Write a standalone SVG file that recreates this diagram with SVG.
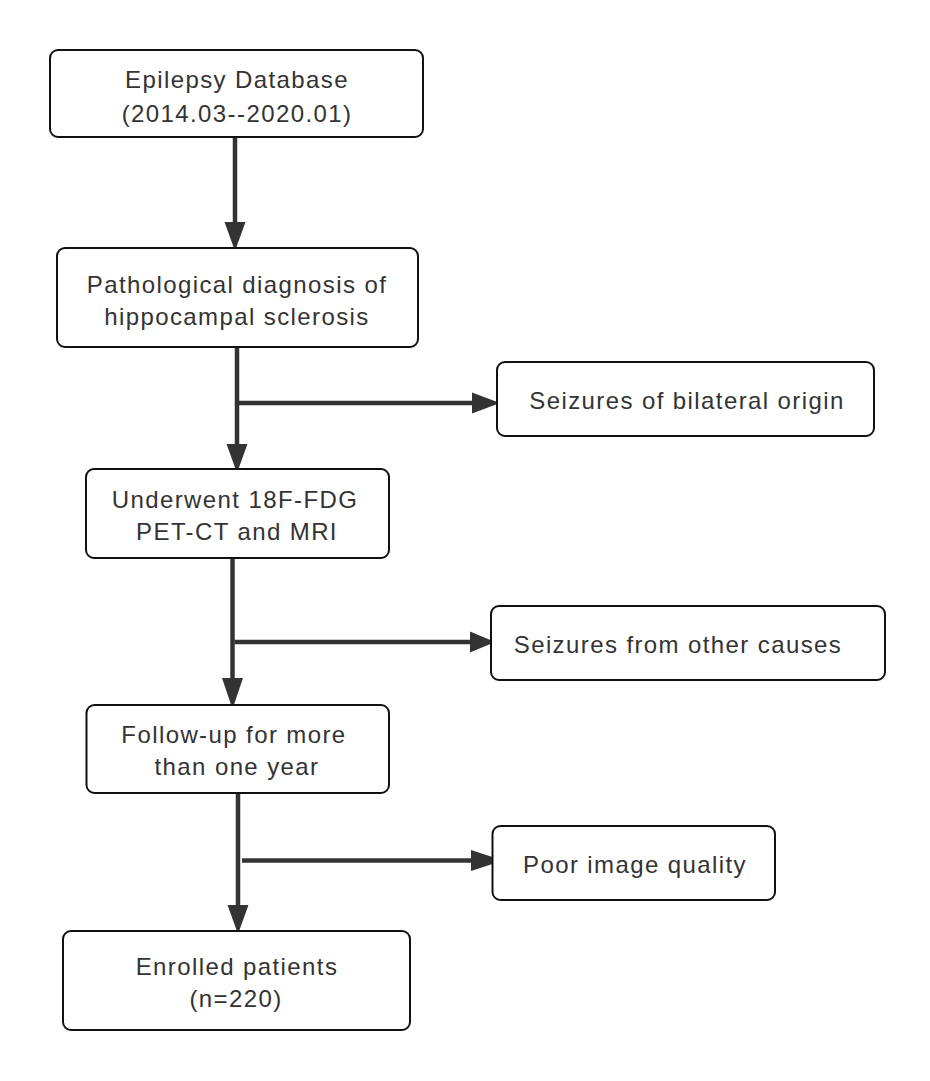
<svg xmlns="http://www.w3.org/2000/svg" width="930" height="1081" viewBox="0 0 930 1081">
<style>
.box{fill:#fff;stroke:#111;stroke-width:2}
.t{font-family:"Liberation Sans",Arial,sans-serif;font-size:24px;fill:#333;letter-spacing:1.4px;text-anchor:middle}
.ln{stroke:#333;stroke-width:4.5;fill:none}
.ah{fill:#333}
</style>
<rect width="930" height="1081" fill="#fff"/>
<g id="connectors">
<line class="ln" x1="235" y1="138" x2="235" y2="224"/>
<polygon class="ah" points="224.5,222 245.5,222 235,251"/>
<line class="ln" x1="237" y1="347" x2="237" y2="446"/>
<polygon class="ah" points="226.5,444 247.5,444 237,473"/>
<line class="ln" x1="237" y1="403" x2="474" y2="403"/>
<polygon class="ah" points="472,392.5 472,413.5 500,403"/>
<line class="ln" x1="232.5" y1="558" x2="232.5" y2="680"/>
<polygon class="ah" points="222,678 243,678 232.5,709"/>
<line class="ln" x1="234.5" y1="642" x2="472" y2="642"/>
<polygon class="ah" points="470,631.5 470,652.5 495,642"/>
<line class="ln" x1="238" y1="793" x2="238" y2="907"/>
<polygon class="ah" points="227.5,905 248.5,905 238,934"/>
<line class="ln" x1="242" y1="860.5" x2="473" y2="860.5"/>
<polygon class="ah" points="471,850 471,871 503,860.5"/>
</g>
<g id="n1">
<rect class="box" x="50" y="50" width="373" height="87" rx="8"/>
<text class="t" x="237" y="88">Epilepsy Database</text>
<text class="t" x="237" y="122">(2014.03--2020.01)</text>
</g>
<g id="n2">
<rect class="box" x="57" y="248" width="361" height="99" rx="8"/>
<text class="t" x="237" y="293">Pathological diagnosis of</text>
<text class="t" x="237" y="325">hippocampal sclerosis</text>
</g>
<g id="n3">
<rect class="box" x="86" y="469" width="303" height="89" rx="8"/>
<text class="t" x="235" y="508">Underwent 18F-FDG</text>
<text class="t" x="237" y="540">PET-CT and MRI</text>
</g>
<g id="n4">
<rect class="box" x="86.5" y="705" width="302.5" height="88" rx="8"/>
<text class="t" x="234" y="743">Follow-up for more</text>
<text class="t" x="237" y="775">than one year</text>
</g>
<g id="n5">
<rect class="box" x="63" y="931" width="347" height="99" rx="8"/>
<text class="t" x="237" y="975">Enrolled patients</text>
<text class="t" x="236" y="1007">(n=220)</text>
</g>
<g id="s1">
<rect class="box" x="497" y="362" width="377" height="74" rx="8"/>
<text class="t" x="687" y="409">Seizures of bilateral origin</text>
</g>
<g id="s2">
<rect class="box" x="491" y="606" width="394" height="74" rx="8"/>
<text class="t" x="678" y="653">Seizures from other causes</text>
</g>
<g id="s3">
<rect class="box" x="492.5" y="826" width="282.5" height="74" rx="8"/>
<text class="t" x="635" y="873">Poor image quality</text>
</g>
</svg>
